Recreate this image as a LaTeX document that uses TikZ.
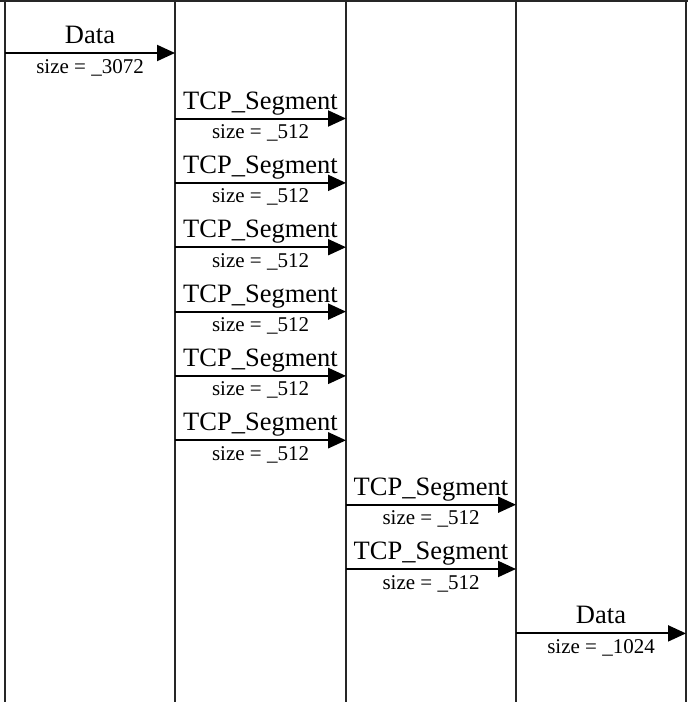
\documentclass[tikz,border=0pt]{standalone}
\usepackage{fontspec}
\setmainfont{Liberation Serif}
\usetikzlibrary{arrows.meta}

\begin{document}
\begin{tikzpicture}[x=1pt, y=-1pt,
            lane/.style={draw=black!85, line width=1.2pt},
            msg/.style={-{Triangle[length=18pt, width=16pt]}, line width=2pt},
            msglabel/.style={anchor=base, yshift=9.5pt, inner sep=0pt, font=\fontsize{26.5}{26.5}\selectfont},
            sizelabel/.style={anchor=base, yshift=-20pt, inner sep=0pt, font=\fontsize{21}{21}\selectfont}
        ]
            \useasboundingbox (0,0) rectangle (688,702);
            % frame top and lifelines
            \coordinate (tl) at (0,1);
            \coordinate (tr) at (688,1);
            \draw[lane] (tl) -- (tr);
            \foreach \i/\x in {0/5,1/175,2/346,3/516,4/686} {
                \coordinate (top\i) at (\x,1);
                \coordinate (bot\i) at (\x,702);
                \draw[lane] (top\i) -- (bot\i);
            }
            % messages
            \foreach \n/\y/\xa/\xb/\lab/\sz in {1/53/5/175/Data/3072,
                    2/118.5/175/346/TCP\_Segment/512, 3/182.9/175/346/TCP\_Segment/512,
                    4/247.2/175/346/TCP\_Segment/512, 5/311.6/175/346/TCP\_Segment/512,
                    6/375.9/175/346/TCP\_Segment/512, 7/440.3/175/346/TCP\_Segment/512,
                    8/504.7/346/516/TCP\_Segment/512, 9/569/346/516/TCP\_Segment/512,
                    10/633.4/516/686/Data/1024} {
                \coordinate (m\n a) at (\xa,\y);
                \coordinate (m\n b) at (\xb,\y);
                \draw[msg] (m\n a) -- node[msglabel] (lab\n) {\lab} node[sizelabel] (size\n) {size = \_\sz} (m\n b);
            }
        \end{tikzpicture}
\end{document}
